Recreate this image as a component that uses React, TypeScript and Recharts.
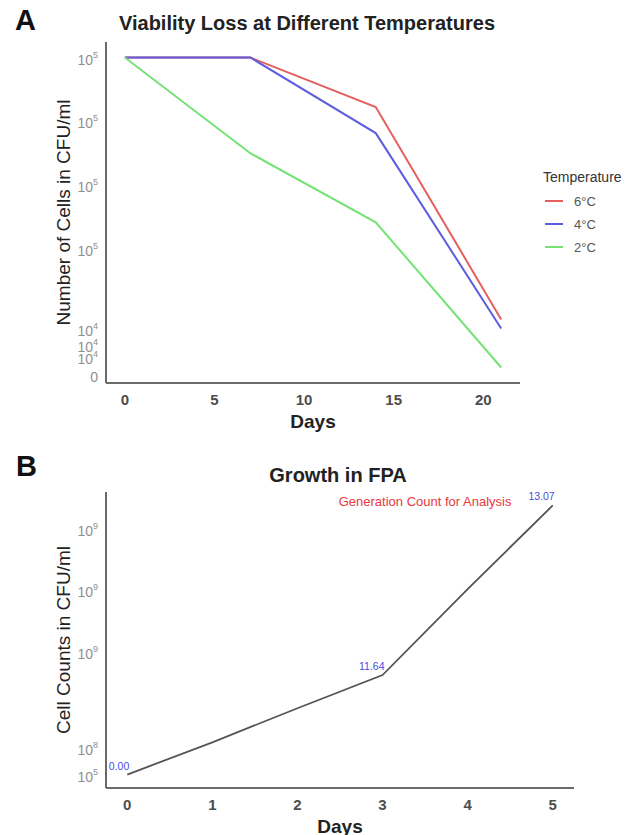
import React from "react"
import { Label, LabelList, Line, LineChart, ReferenceDot, XAxis, YAxis } from "recharts"

// panel A - viability at different storage temps
const viabilityDays = [0, 7, 14, 21]
const cfu6C = [400000, 400000, 337800, 71600]
const cfu4C = [400000, 400000, 305200, 60300]
const cfu2C = [400000, 280000, 193400, 11300]
const tempNames = ["6°C", "4°C", "2°C"]
const tempColors = ["#e4605f", "#5d5de0", "#74e274"]
const viabilityYTicks = [0, 24000, 40000, 60000, 160000, 240000, 320000, 400000]
const viabilityXTicks = [0, 5, 10, 15, 20]

// panel B - growth in FPA
const growthDays = [0, 1, 2, 3, 4, 5]
const growthCounts = [500000, 525000000, 1080000000, 1620000000, 3020000000, 4380000000]
const generations = [0, null, null, 11.64, null, 13.07]
const growthYTicks = [500000, 430000000, 2000000000, 3000000000, 4000000000]
const growthXTicks = [0, 1, 2, 3, 4, 5]
const noteText = "Generation Count for Analysis"
const noteDay = 3.5
const noteCount = 4450000000

const FONT = '"Liberation Sans", Arial, sans-serif'
const AXIS = { stroke: "#6a6a6a", strokeWidth: 2 }

const viabilityData = viabilityDays.map((d, i) => ({ day: d, t6: cfu6C[i], t4: cfu4C[i], t2: cfu2C[i] }))
const growthData = growthDays.map((d, i) => ({ day: d, count: growthCounts[i], gen: generations[i] }))

// ggplot-ish 5% expansion
function padded(vals: number[]): [number, number] {
  const lo = Math.min(...vals)
  const hi = Math.max(...vals)
  const p = (hi - lo) * 0.05
  return [lo - p, hi + p]
}

function PowTick(props: any) {
  const { x, y, payload } = props
  const v = payload.value
  if (v === 0) {
    return (
      <text x={x} y={y} dy={5} textAnchor="end" fill="#8f8f8f" fontSize={14} fontFamily={FONT}>
        0
      </text>
    )
  }
  const e = Math.floor(Math.log10(v))
  return (
    <text x={x} y={y} dy={7} textAnchor="end" fill="#8f8f8f" fontSize={14} fontFamily={FONT}>
      10
      <tspan dy={-7} fontSize={9}>
        {e}
      </tspan>
    </text>
  )
}

function DayTick(props: any) {
  const { x, y, payload } = props
  return (
    <text x={x} y={y} dy={14} textAnchor="middle" fill="#4d4d4d" fontSize={15} fontWeight="bold" fontFamily={FONT}>
      {payload.value}
    </text>
  )
}

const yTitle = (text: string) => (props: any) => {
  const vb = props.viewBox
  const cx = vb.x + 63
  const cy = vb.y + vb.height / 2
  return (
    <text
      x={cx}
      y={cy}
      transform={`rotate(-90 ${cx} ${cy})`}
      textAnchor="middle"
      dominantBaseline="central"
      fontSize={19}
      fill="#222"
      fontFamily={FONT}
    >
      {text}
    </text>
  )
}

const xTitle = (props: any) => {
  const vb = props.viewBox
  return (
    <text
      x={vb.x + vb.width / 2}
      y={vb.y + 38}
      textAnchor="middle"
      dominantBaseline="central"
      fontSize={19}
      fontWeight="bold"
      fill="#222"
      fontFamily={FONT}
    >
      Days
    </text>
  )
}

function GenLabel(props: any) {
  const { x, y, value } = props
  if (value == null) return null
  return (
    <text x={x + 2} y={y - 5} textAnchor="end" fill="#4a4ae0" fontSize={10.5} fontFamily={FONT}>
      {value.toFixed(2)}
    </text>
  )
}

export default function App() {
  const keys = ["t6", "t4", "t2"]
  return (
    <div style={{ position: "absolute", left: 0, top: 0, width: 630, height: 835, background: "#fff", fontFamily: FONT }}>
      {/* panel A */}
      <div style={{ position: "absolute", left: 15, top: 4, fontSize: 29, fontWeight: "bold", color: "#111" }}>A</div>
      <div
        style={{
          position: "absolute",
          left: 100,
          top: 11,
          width: 414,
          textAlign: "center",
          fontSize: 20,
          lineHeight: "24px",
          fontWeight: "bold",
          color: "#222",
        }}
      >
        Viability Loss at Different Temperatures
      </div>
      <div style={{ position: "absolute", left: 0, top: 0 }}>
        <LineChart width={630} height={440} data={viabilityData} margin={{ top: 42, right: 110, left: 0, bottom: 7 }}>
          <XAxis
            dataKey="day"
            type="number"
            domain={padded(viabilityDays)}
            allowDataOverflow
            ticks={viabilityXTicks}
            tick={<DayTick />}
            tickLine={false}
            axisLine={AXIS}
            height={50}
          >
            <Label content={xTitle} />
          </XAxis>
          <YAxis
            type="number"
            domain={padded([...cfu6C, ...cfu4C, ...cfu2C])}
            allowDataOverflow
            ticks={viabilityYTicks}
            interval={0}
            tick={<PowTick />}
            tickLine={false}
            axisLine={AXIS}
            width={106}
          >
            <Label content={yTitle("Number of Cells in CFU/ml")} />
          </YAxis>
          {keys.map((k, i) => (
            <Line
              key={k}
              dataKey={k}
              type="linear"
              stroke={tempColors[i]}
              strokeWidth={2}
              dot={false}
              isAnimationActive={false}
            />
          ))}
        </LineChart>
      </div>
      {/* legend */}
      <div style={{ position: "absolute", left: 543, top: 168, fontSize: 14, color: "#333", lineHeight: "18px" }}>
        Temperature
      </div>
      {tempNames.map((n, i) => (
        <div key={n} style={{ position: "absolute", left: 545, top: 193 + i * 23, height: 16, display: "flex", alignItems: "center" }}>
          <div style={{ width: 18, height: 2, background: tempColors[i] }} />
          <span style={{ marginLeft: 11, fontSize: 13, color: "#555" }}>{n}</span>
        </div>
      ))}

      {/* panel B */}
      <div style={{ position: "absolute", left: 16, top: 450, fontSize: 29, fontWeight: "bold", color: "#111" }}>B</div>
      <div
        style={{
          position: "absolute",
          left: 106,
          top: 463,
          width: 464,
          textAlign: "center",
          fontSize: 20,
          lineHeight: "24px",
          fontWeight: "bold",
          color: "#222",
        }}
      >
        Growth in FPA
      </div>
      <div style={{ position: "absolute", left: 0, top: 440 }}>
        <LineChart width={630} height={395} data={growthData} margin={{ top: 52, right: 56, left: 0, bottom: 7 }}>
          <XAxis
            dataKey="day"
            type="number"
            domain={padded(growthDays)}
            allowDataOverflow
            ticks={growthXTicks}
            tick={<DayTick />}
            tickLine={false}
            axisLine={AXIS}
            height={40}
          >
            <Label content={xTitle} />
          </XAxis>
          <YAxis
            type="number"
            domain={padded(growthCounts)}
            allowDataOverflow
            ticks={growthYTicks}
            interval={0}
            tick={<PowTick />}
            tickLine={false}
            axisLine={AXIS}
            width={106}
          >
            <Label content={yTitle("Cell Counts in CFU/ml")} />
          </YAxis>
          <Line dataKey="count" type="linear" stroke="#555" strokeWidth={1.8} dot={false} isAnimationActive={false}>
            <LabelList dataKey="gen" content={<GenLabel />} />
          </Line>
          <ReferenceDot
            x={noteDay}
            y={noteCount}
            r={0}
            fill="none"
            stroke="none"
            label={{ value: noteText, position: "center", fill: "#e8383d", fontSize: 13, fontFamily: FONT }}
          />
        </LineChart>
      </div>
    </div>
  )
}
